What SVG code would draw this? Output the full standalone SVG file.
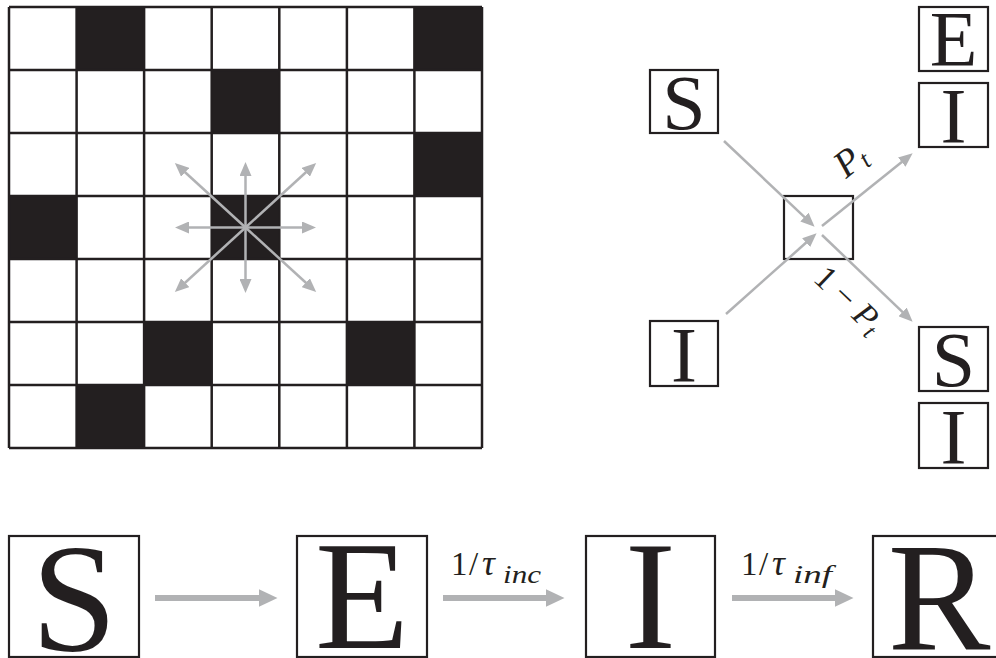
<svg xmlns="http://www.w3.org/2000/svg" width="996" height="658" viewBox="0 0 996 658">
<style>
.cell{fill:#231f20}
.grid{stroke:#231f20;stroke-width:2.5;fill:none}
.box{fill:#fff;stroke:#231f20;stroke-width:2.2}
.arr{stroke:#b1b2b4;stroke-width:2.5;fill:none}
.big{stroke:#b1b2b4;stroke-width:6;fill:none}
text{font-family:'Liberation Serif','DejaVu Serif','Noto Serif',serif;fill:#231f20}
.lt{text-anchor:middle}
.it{font-style:italic}
</style>
<defs>
<marker id="ah" viewBox="0 0 14 12" refX="0.5" refY="6" markerWidth="14" markerHeight="12" markerUnits="userSpaceOnUse" orient="auto">
<path d="M0,0 L14,6 L0,12 z" fill="#b1b2b4"/>
</marker>
<marker id="ahb" viewBox="0 0 19 18" refX="0.5" refY="9" markerWidth="19" markerHeight="18" markerUnits="userSpaceOnUse" orient="auto">
<path d="M0,0 L19,9 L0,18 z" fill="#b1b2b4"/>
</marker>
</defs>
<rect width="996" height="658" fill="#fff"/>

<g id="lattice">
<rect x="9" y="7" width="473" height="441" fill="#fff"/>
<rect class="cell" x="76.6" y="7" width="67.5" height="63"/>
<rect class="cell" x="414.4" y="7" width="67.6" height="63"/>
<rect class="cell" x="211.7" y="70" width="67.6" height="63"/>
<rect class="cell" x="414.4" y="133" width="67.6" height="63"/>
<rect class="cell" x="9" y="196" width="67.6" height="63"/>
<rect class="cell" x="211.7" y="196" width="67.6" height="63"/>
<rect class="cell" x="144.1" y="322" width="67.6" height="63"/>
<rect class="cell" x="346.9" y="322" width="67.5" height="63"/>
<rect class="cell" x="76.6" y="385" width="67.5" height="63"/>
<path class="grid" d="M9,7V448M76.6,7V448M144.1,7V448M211.7,7V448M279.3,7V448M346.9,7V448M414.4,7V448M482,7V448M9,7H482M9,70H482M9,133H482M9,196H482M9,259H482M9,322H482M9,385H482M9,448H482"/>
</g>

<g id="neighbour-arrows">
<g transform="translate(245.5,227.5)">
<path class="arr" marker-end="url(#ah)" d="M0,0H-57"/>
<path class="arr" marker-end="url(#ah)" d="M0,0H57"/>
<path class="arr" marker-end="url(#ah)" d="M0,0V-52"/>
<path class="arr" marker-end="url(#ah)" d="M0,0V52"/>
<path class="arr" marker-end="url(#ah)" d="M0,0L-60.7,-55.5"/>
<path class="arr" marker-end="url(#ah)" d="M0,0L60.7,-55.5"/>
<path class="arr" marker-end="url(#ah)" d="M0,0L-60.7,55.5"/>
<path class="arr" marker-end="url(#ah)" d="M0,0L60.7,55.5"/>
</g>
</g>

<g id="node-S-in">
<rect class="box" x="650" y="70" width="68" height="63"/>
<text class="lt" x="684" y="129" font-size="78">S</text>
</g>
<g id="node-I-in">
<rect class="box" x="650" y="321" width="68" height="65"/>
<text class="lt" x="684" y="381" font-size="78">I</text>
</g>
<g id="node-contact">
<rect class="box" x="784" y="196" width="69" height="63" fill="none"/>
</g>
<g id="node-E-out">
<rect class="box" x="919" y="7" width="69" height="64"/>
<text class="lt" x="953.5" y="65" font-size="78">E</text>
</g>
<g id="node-I-out">
<rect class="box" x="919" y="83" width="69" height="64"/>
<text class="lt" x="953.5" y="142" font-size="78">I</text>
</g>
<g id="node-S-out">
<rect class="box" x="919" y="327" width="69" height="64"/>
<text class="lt" x="953.5" y="386" font-size="78">S</text>
</g>
<g id="node-I-out2">
<rect class="box" x="919" y="403" width="69" height="65"/>
<text class="lt" x="953.5" y="463" font-size="78">I</text>
</g>

<g id="node-S">
<rect class="box" x="9" y="536" width="130" height="121"/>
<text class="lt" x="74" y="650" font-size="154">S</text>
</g>
<g id="node-E">
<rect class="box" x="297" y="536" width="130" height="121"/>
<text class="lt" x="362" y="648" font-size="154">E</text>
</g>
<g id="node-I">
<rect class="box" x="586" y="536" width="129" height="121"/>
<text class="lt" x="650.5" y="648" font-size="154">I</text>
</g>
<g id="node-R">
<rect class="box" x="873" y="536" width="130" height="121"/>
<text class="lt" x="939" y="649" font-size="154">R</text>
</g>

<g id="connectors">
<path class="arr" marker-end="url(#ah)" d="M724,141L804.8,217.4"/>
<path class="arr" marker-end="url(#ah)" d="M726,314L806.5,242.3"/>
<path class="arr" marker-end="url(#ah)" d="M822,226L902.1,161.8"/>
<path class="arr" marker-end="url(#ah)" d="M822,235L902.9,312.3"/>
<path class="big" marker-end="url(#ahb)" d="M155,598H259"/>
<path class="big" marker-end="url(#ahb)" d="M443,598H546"/>
<path class="big" marker-end="url(#ahb)" d="M732,598H835"/>
</g>

<g id="labels">
<text transform="translate(846,179) rotate(-38.7)" font-size="38"><tspan class="it">P</tspan><tspan class="it" font-size="26" dy="5">t</tspan></text>
<text transform="translate(812,280) rotate(43.7)" font-size="34"><tspan>1 − </tspan><tspan class="it">P</tspan><tspan class="it" font-size="24" dy="5">t</tspan></text>
<text font-size="33" y="575"><tspan x="451">1</tspan><tspan x="469">/</tspan><tspan x="482" class="it" font-size="36">τ</tspan><tspan x="503" dy="8" font-size="25" class="it" textLength="38" lengthAdjust="spacingAndGlyphs">inc</tspan></text>
<text font-size="33" y="575"><tspan x="741">1</tspan><tspan x="759">/</tspan><tspan x="772" class="it" font-size="36">τ</tspan><tspan x="793" dy="8" font-size="25" class="it" textLength="39" lengthAdjust="spacingAndGlyphs">inf</tspan></text>
</g>
</svg>
